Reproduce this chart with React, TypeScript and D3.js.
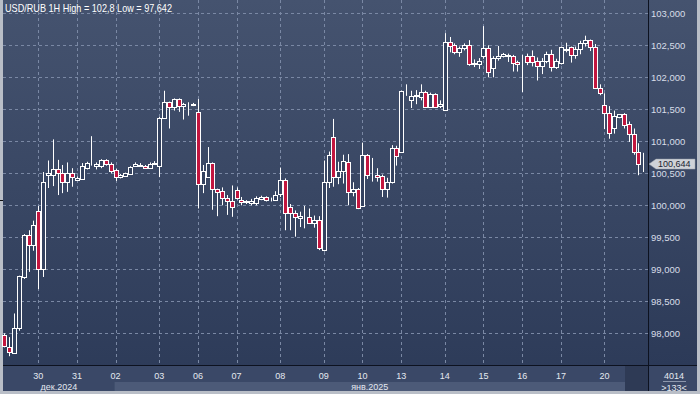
import React from "react";
import * as d3 from "d3";

const opens = [97.98,97.79,97.69,98.08,98.88,99.53,99.38,99.91,99.00,100.48,100.48,100.56,100.50,100.36,100.50,100.40,100.41,100.58,100.64,100.61,100.61,100.70,100.65,100.55,100.44,100.46,100.49,100.61,100.62,100.62,100.58,100.64,100.61,101.37,101.61,101.53,101.66,101.55,101.58,101.57,101.45,100.33,100.44,100.66,100.25,100.22,100.11,100.06,100.24,100.09,100.05,100.04,100.04,100.10,100.13,100.08,100.09,100.18,100.40,99.98,99.88,99.80,99.81,99.81,99.72,99.77,99.30,100.36,101.06,100.44,100.53,100.68,100.21,100.25,99.99,100.79,100.47,100.47,100.45,100.25,100.36,100.89,100.84,101.78,101.65,101.70,101.69,101.77,101.54,101.74,101.55,101.49,102.55,102.50,102.40,102.45,102.50,102.20,102.20,102.34,102.45,102.14,102.30,102.33,102.34,102.33,102.24,102.31,102.33,102.33,102.26,102.17,102.26,102.36,102.16,102.22,102.43,102.47,102.35,102.44,102.53,102.58,102.47,101.84,101.56,101.44,101.20,101.38,101.42,101.27,101.11,100.84,100.64];
const highs = [98.00,97.94,98.31,98.90,99.55,99.61,99.76,99.99,100.52,100.70,101.03,100.71,100.63,100.67,100.58,100.45,100.66,100.68,101.08,100.67,100.72,100.72,100.67,100.57,100.49,100.51,100.61,100.67,100.66,100.63,100.67,100.69,101.38,101.79,101.62,101.67,101.67,101.60,101.61,101.60,101.66,100.63,100.91,100.67,100.26,100.28,100.16,100.31,100.28,100.13,100.08,100.10,100.14,100.15,100.14,100.12,100.22,100.59,100.42,100.02,99.92,99.90,99.99,99.95,99.84,99.83,100.70,100.84,101.35,100.68,100.79,100.80,100.36,100.27,100.98,100.80,100.74,100.58,100.48,100.43,100.94,100.93,101.79,101.89,101.79,101.80,101.89,101.79,101.76,101.75,101.64,102.69,102.63,102.53,102.48,102.53,102.58,102.28,102.30,102.80,102.50,102.33,102.49,102.38,102.37,102.35,102.26,102.35,102.37,102.42,102.31,102.30,102.40,102.43,102.29,102.48,102.54,102.48,102.48,102.57,102.65,102.59,102.52,101.89,101.75,101.55,101.48,101.42,101.44,101.31,101.20,100.97,100.82];
const lows = [97.78,97.642,97.68,98.04,98.85,98.96,99.29,98.69,98.88,100.27,100.30,100.16,100.19,100.21,100.29,100.38,100.40,100.56,100.62,100.56,100.58,100.62,100.50,100.38,100.42,100.45,100.48,100.60,100.60,100.57,100.57,100.63,100.44,101.36,101.20,101.48,101.46,101.34,101.40,101.55,99.95,100.19,100.43,99.93,99.83,100.00,99.85,99.82,100.09,100.00,100.02,100.00,100.00,100.08,100.06,100.06,100.08,100.13,99.61,99.61,99.51,99.66,99.64,99.71,99.65,99.30,99.28,100.27,100.29,100.33,100.34,100.00,100.14,99.94,99.98,100.41,100.37,100.37,100.13,100.12,100.34,100.62,100.82,101.71,101.52,101.58,101.64,101.52,101.53,101.52,101.52,101.48,102.39,102.36,102.32,102.42,102.18,102.16,102.13,102.29,102.00,102.00,102.26,102.31,102.24,102.09,102.09,101.77,102.19,102.17,101.95,102.05,102.22,102.09,102.13,102.20,102.39,102.23,102.29,102.36,102.48,102.41,101.82,101.72,101.19,101.04,101.12,101.36,101.20,100.99,100.79,100.47,100.52];
const closes = [97.80,97.70,98.09,98.90,99.53,99.38,99.69,99.00,100.36,100.50,100.56,100.50,100.36,100.50,100.44,100.42,100.61,100.66,100.65,100.65,100.70,100.64,100.53,100.44,100.48,100.50,100.60,100.64,100.63,100.58,100.65,100.66,101.37,101.62,101.53,101.66,101.55,101.59,101.59,101.58,100.33,100.54,100.66,100.25,100.20,100.11,100.06,99.98,100.11,100.05,100.06,100.06,100.11,100.13,100.08,100.09,100.16,100.40,99.88,99.88,99.81,99.83,99.82,99.73,99.77,99.33,100.36,100.79,100.44,100.53,100.69,100.21,100.25,99.95,100.79,100.47,100.47,100.44,100.25,100.36,100.89,100.77,101.78,101.78,101.70,101.72,101.77,101.54,101.74,101.53,101.58,102.55,102.49,102.40,102.45,102.50,102.20,102.22,102.26,102.45,102.09,102.30,102.34,102.36,102.35,102.23,102.20,102.32,102.24,102.24,102.17,102.26,102.36,102.16,102.25,102.47,102.44,102.35,102.44,102.53,102.58,102.47,101.84,101.75,101.44,101.13,101.40,101.42,101.25,101.11,100.84,100.64,100.644];

const dayLabels = ["30","31","02","03","06","07","08","09","10","13","14","15","16","17","20"];
const dayStarts = [7,15,23,32,40,48,57,66,74,82,91,99,107,115,124];
const priceTicks = [98,98.5,99,99.5,100,100.5,101,101.5,102,102.5,103];
const monthLabels = ["дек.2024","янв.2025"];
const title = "USD/RUB 1H High = 102,8 Low = 97,642";
const lastPrice = 100.644;

const W = 700, H = 394;
const PLOT_R = 648, PLOT_B = 365;
const FONT = "'Liberation Sans', Arial, sans-serif";

export default function App() {
  const n = closes.length;
  const x = d3.scaleLinear().domain([0, n - 1]).range([4.3, 643.2]);
  const y = d3.scaleLinear().domain([98, 103]).range([333.3, 13.3]);
  const fmt = (v: number) => d3.format(".3f")(v).replace(".", ",");
  const red = "#c2163f";
  const idx = d3.range(n);
  const monthSpans = [
    [3, x(dayStarts[2]) - 1],
    [x(dayStarts[2]) - 1, 625],
  ];
  const ly = y(lastPrice);
  return (
    <svg width={W} height={H} style={{ position: "absolute", left: 0, top: 0, display: "block" }} fontFamily={FONT}>
      <defs>
        <linearGradient id="bg" x1="0" y1="0" x2="0" y2="1">
          <stop offset="0" stopColor="#45536f" />
          <stop offset="1" stopColor="#2c3a58" />
        </linearGradient>
      </defs>
      <rect x={0} y={0} width={W} height={H} fill="#b9bec7" />
      <rect x={3} y={0} width={W - 6} height={H - 3} fill="url(#bg)" />
      {/* grid */}
      {priceTicks.map((t) => (
        <line key={"h" + t} x1={3} x2={PLOT_R} y1={Math.round(y(t)) + 0.5} y2={Math.round(y(t)) + 0.5}
          stroke="#7a88a4" strokeDasharray="3,3" strokeWidth={1} />
      ))}
      {dayStarts.map((d) => (
        <line key={"v" + d} x1={Math.round(x(d)) + 0.5} x2={Math.round(x(d)) + 0.5} y1={0} y2={PLOT_B}
          stroke="#7a88a4" strokeDasharray="3,3" strokeWidth={1} />
      ))}
      {/* candles */}
      {idx.map((i) => {
        const cx = Math.round(x(i)) + 0.5;
        const o = opens[i], c = closes[i];
        const top = Math.round(y(Math.max(o, c))) + 0.5;
        const bot = Math.round(y(Math.min(o, c))) + 0.5;
        const up = c >= o;
        return (
          <g key={i}>
            <line x1={cx} x2={cx} y1={y(highs[i])} y2={y(lows[i])} stroke="#ffffff" strokeWidth={1} />
            <rect x={cx - 2} y={top} width={4} height={Math.max(0, bot - top)}
              fill={up ? "#34425f" : red} stroke="#ffffff" strokeWidth={1} shapeRendering="crispEdges" />
          </g>
        );
      })}
      {/* title */}
      <text x={5} y={12} fill="#ffffff" fontSize={10.5} textLength={167} lengthAdjust="spacingAndGlyphs">{title}</text>
      {/* left marker */}
      <line x1={0} x2={3} y1={200.5} y2={200.5} stroke="#111" />
      {/* right axis */}
      <rect x={PLOT_R} y={0} width={W - 3 - PLOT_R} height={PLOT_B} fill="url(#bg)" />
      <line x1={PLOT_R + 0.5} x2={PLOT_R + 0.5} y1={0} y2={H - 3} stroke="#0d1220" />
      {priceTicks.filter((t) => Math.abs(y(t) - ly) > 8).map((t) => (
        <text key={"yl" + t} x={651} y={y(t) + 3.5} fill="#d8dde8" fontSize={9.5}>{fmt(t)}</text>
      ))}
      {priceTicks.filter((t) => Math.abs(y(t) - ly) <= 8).map((t) => (
        <text key={"yo" + t} x={651} y={ly + 17} fill="#d8dde8" fontSize={9}>{fmt(t)}</text>
      ))}
      <path d={`M${PLOT_R + 1},${ly} L${PLOT_R + 8},${ly - 5} L695,${ly - 5} L695,${ly + 5} L${PLOT_R + 8},${ly + 5} Z`}
        fill="#cfd2d8" stroke="#9aa0aa" strokeWidth={0.5} />
      <text x={658} y={ly + 3} fill="#1c2330" fontSize={9}>{fmt(lastPrice)}</text>
      {/* bottom axis */}
      <rect x={3} y={PLOT_B} width={PLOT_R - 3} height={H - 3 - PLOT_B} fill="#3a4867" />
      <rect x={monthSpans[1][0]} y={382} width={monthSpans[1][1] - monthSpans[1][0]} height={9} fill="#4c5a78" />
      <rect x={625} y={PLOT_B} width={PLOT_R - 625} height={H - 3 - PLOT_B} fill="#2e3a55" />
      <rect x={PLOT_R + 1} y={PLOT_B} width={W - 4 - PLOT_R} height={H - 3 - PLOT_B} fill="#3a4867" />
      <line x1={3} x2={W - 3} y1={PLOT_B + 0.5} y2={PLOT_B + 0.5} stroke="#0d1220" />
      {dayStarts.map((d, k) => (
        <text key={"dl" + k} x={x(d)} y={379} fill="#e4e8f0" fontSize={9} textAnchor="middle">{dayLabels[k]}</text>
      ))}
      {monthLabels.map((m, k) => (
        <text key={"ml" + k} x={(monthSpans[k][0] + monthSpans[k][1]) / 2} y={390} fill="#e4e8f0" fontSize={9} textAnchor="middle">{m}</text>
      ))}
      <text x={674} y={379} fill="#e4e8f0" fontSize={9} textAnchor="middle">4014</text>
      <line x1={663} x2={686} y1={381.5} y2={381.5} stroke="#8c97ad" />
      <text x={674} y={391} fill="#e4e8f0" fontSize={9} textAnchor="middle">{">133<"}</text>
    </svg>
  );
}
